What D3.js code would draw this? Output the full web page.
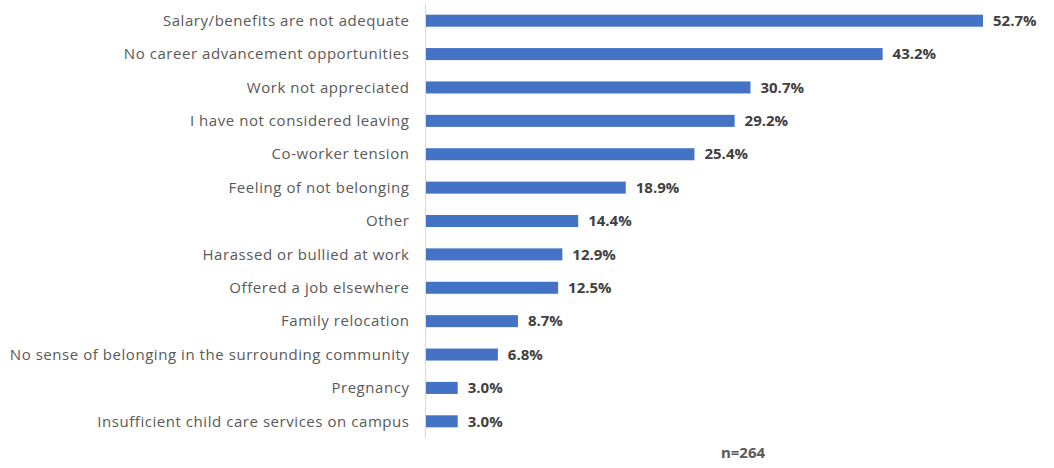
<!DOCTYPE html>
<html>
<head>
<meta charset="utf-8">
<script src="https://cdn.jsdelivr.net/npm/d3@7"></script>
<style>
  body { margin: 0; background: #fff; }
  svg text { font-family: "Open Sans", "Noto Sans", sans-serif; }
</style>
</head>
<body>
<svg id="chart" width="1054" height="468"></svg>
<script>
// reasons for considering leaving, % of respondents
const reasons = [
    "Salary/benefits are not adequate",
    "No career advancement opportunities",
    "Work not appreciated",
    "I have not considered leaving",
    "Co-worker tension",
    "Feeling of not belonging",
    "Other",
    "Harassed or bullied at work",
    "Offered a job elsewhere",
    "Family relocation",
    "No sense of belonging in the surrounding community",
    "Pregnancy",
    "Insufficient child care services on campus"
];
const percents = [52.7, 43.2, 30.7, 29.2, 25.4, 18.9, 14.4, 12.9, 12.5, 8.7, 6.8, 3.0, 3.0];
const sampleNote = "n=264";

var svg = d3.select("#chart");

var x0 = 426;
var x = d3.scaleLinear()
    .domain([0, 52.7])
    .range([x0, 983]);

var y = d3.scaleBand()
    .domain(reasons)
    .range([4, 438])
    .paddingInner(0.64)
    .paddingOuter(0.32);

var rows = reasons.map(function (r, i) { return { label: r, val: percents[i] }; });

// bars
svg.append("g").selectAll("rect")
    .data(rows)
    .enter().append("rect")
    .attr("x", x(0))
    .attr("y", function (d) { return y(d.label); })
    .attr("width", function (d) { return x(d.val) - x(0); })
    .attr("height", y.bandwidth())
    .attr("fill", "#4472c4");

// vertical axis line
svg.append("line")
    .attr("x1", x0 - 0.5).attr("x2", x0 - 0.5)
    .attr("y1", 4).attr("y2", 438)
    .attr("stroke", "#d9d9d9")
    .attr("stroke-width", 1);

// category labels (spaced out a bit to match the wider original font)
svg.append("g").selectAll("text")
    .data(rows)
    .enter().append("text")
    .attr("x", 409.5)
    .attr("y", function (d) { return y(d.label) + y.bandwidth() / 2; })
    .attr("dy", "0.35em")
    .attr("text-anchor", "end")
    .attr("font-size", 15)
    .attr("letter-spacing", "0.55px")
    .attr("fill", "#595959")
    .text(function (d) { return d.label; });

// value labels
svg.append("g").selectAll("text")
    .data(rows)
    .enter().append("text")
    .attr("x", function (d) { return x(d.val) + 10; })
    .attr("y", function (d) { return y(d.label) + y.bandwidth() / 2; })
    .attr("dy", "0.35em")
    .attr("font-size", 15)
    .attr("font-weight", "bold")
    .attr("fill", "#404040")
    .text(function (d) { return d.val.toFixed(1) + "%"; });

svg.append("text")
    .attr("x", 743)
    .attr("y", 453)
    .attr("dy", "0.35em")
    .attr("text-anchor", "middle")
    .attr("font-size", 15)
    .attr("font-weight", "bold")
    .attr("fill", "#595959")
    .text(sampleNote);
</script>
</body>
</html>
